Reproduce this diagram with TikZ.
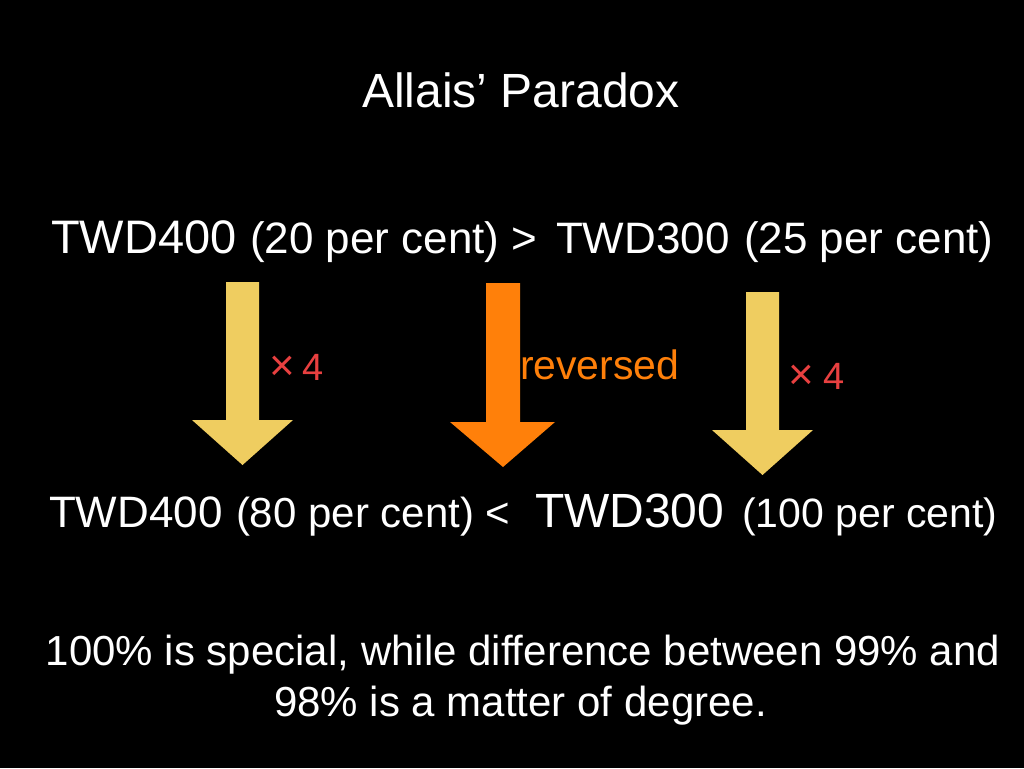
\documentclass[tikz,border=0pt]{standalone}
\usepackage{fontspec}
\setmainfont{Liberation Sans}
\definecolor{arrowyellow}{RGB}{239,205,96}
\definecolor{arroworange}{RGB}{255,128,10}
\definecolor{labelred}{RGB}{232,64,64}
\newcommand{\fs}[1]{\fontsize{#1}{#1}\selectfont}
\tikzset{
  txt/.style={text=white, inner sep=0pt, outer sep=0pt, anchor=base west},
  ctxt/.style={text=white, inner sep=0pt, outer sep=0pt, anchor=base},
  times/.style={text=labelred, inner sep=0pt, outer sep=0pt, anchor=base west, font=\fs{38}},
  yarrow/.style={fill=arrowyellow, draw=none},
  oarrow/.style={fill=arroworange, draw=none}
}
\begin{document}
\begin{tikzpicture}[x=1pt,y=-1pt]
\fill[black] (0,0) rectangle (1024,768);
\useasboundingbox (0,0) rectangle (1024,768);

% title
\node[ctxt, font=\fs{48}] (title) at (521,107) {Allais’ Paradox};

% line 2
\node[txt, font=\fs{47}] (a1) at (51,253) {TWD400};
\node[txt, font=\fs{44}] (a2) at (250,253) {(20 per cent) >};
\node[txt, font=\fs{44}] (a3) at (556,253) {TWD300};
\node[txt, font=\fs{44}] (a4) at (744,253) {(25 per cent)};

% arrows
\path[yarrow] (226,282) -- (259,282) -- (259,420) -- (293,420) -- (242.5,465)
  -- (192,420) -- (226,420) -- cycle;
\path[oarrow] (486,283) -- (520,283) -- (520,422) -- (555,422) -- (503,467)
  -- (450,422) -- (486,422) -- cycle;
\path[yarrow] (746,292) -- (779,292) -- (779,430) -- (813,430) -- (762.5,475)
  -- (712,430) -- (746,430) -- cycle;

\node[times] (m1) at (269,380) {{\fs{44}×}\hspace{8pt}4};
\node[txt, text=arroworange, font=\fs{41}] (rev) at (520,379) {reversed};
\node[times] (m2) at (788,389) {{\fs{44}×}\hspace{10pt}4};

% line 3
\node[txt, font=\fs{44}] (b1) at (49,527) {TWD400};
\node[txt, font=\fs{42}] (b2) at (236,527) {(80 per cent) <};
\node[txt, font=\fs{48}] (b3) at (535,527) {TWD300};
\node[txt, font=\fs{41}] (b4) at (742,527) {(100 per cent)};

% bottom
\node[ctxt, font=\fs{42}] (c1) at (523,665) {100\% is special, while difference between 99\% and};
\node[ctxt, font=\fs{42}] (c2) at (520.5,716) {98\% is a matter of degree.};
\end{tikzpicture}
\end{document}
